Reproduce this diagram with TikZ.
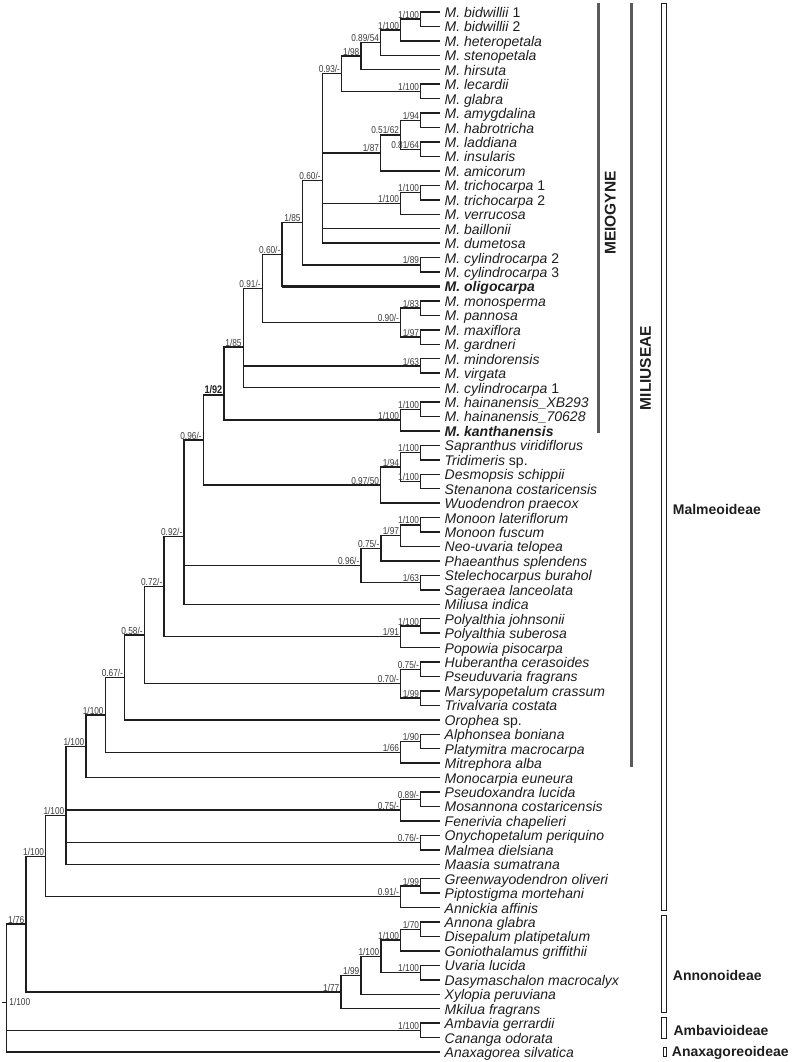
\documentclass[tikz,border=0pt]{standalone}
\usepackage{fontspec}
\setmainfont{Liberation Sans}
\newfontfamily\supfont[FakeStretch=0.83]{Liberation Sans}
\usepackage{xcolor}
\usepackage{tikz}
\definecolor{treeblack}{HTML}{1E1E1E}
\definecolor{supgray}{HTML}{3A3A3A}
\definecolor{bargray}{HTML}{5A5A5A}
\newcommand\suplabel{\supfont\fontsize{10}{10}\selectfont}
\tikzset{
  leaf/.style   ={anchor=west, inner xsep=4.5pt, inner ysep=0pt, text height=13pt,
                  text depth=2pt, font=\fontsize{14}{14}\selectfont\itshape, text=treeblack},
  sup/.style    ={anchor=south east, inner xsep=1.5pt, inner ysep=0.6pt,
                  font=\suplabel, text=supgray},
  branch/.style ={draw=treeblack, line width=1.4pt},
  bar/.style    ={draw=bargray, line width=3pt},
  subbox/.style ={draw=treeblack, line width=0.9pt, fill=white},
  grp/.style    ={rotate=90, inner sep=0pt, font=\fontsize{15.5}{15.5}\selectfont\bfseries, text=treeblack},
  subname/.style={anchor=west, inner sep=0pt, text height=10.5pt, text depth=0.5pt,
                  font=\fontsize{14}{14}\selectfont\bfseries, text=treeblack},
}

\begin{document}
\begin{tikzpicture}[x=1pt, y=-1pt]
  \useasboundingbox (0,0) rectangle (792,1062);

  % terminals
  \node[leaf] (bid1) at (440,12.0)  {M. bidwillii \textup{1}};
  \node[leaf] (bid2) at (440,26.4)  {M. bidwillii \textup{2}};
  \node[leaf] (het)  at (440,40.9)  {M. heteropetala};
  \node[leaf] (ste)  at (440,55.3)  {M. stenopetala};
  \node[leaf] (hir)  at (440,69.8)  {M. hirsuta};
  \node[leaf] (lec)  at (440,84.2)  {M. lecardii};
  \node[leaf] (gla)  at (440,98.7)  {M. glabra};
  \node[leaf] (amy)  at (440,113.1) {M. amygdalina};
  \node[leaf] (hab)  at (440,127.6) {M. habrotricha};
  \node[leaf] (lad)  at (440,142.0) {M. laddiana};
  \node[leaf] (ins)  at (440,156.4) {M. insularis};
  \node[leaf] (ami)  at (440,170.9) {M. amicorum};
  \node[leaf] (tri1) at (440,185.3) {M. trichocarpa \textup{1}};
  \node[leaf] (tri2) at (440,199.8) {M. trichocarpa \textup{2}};
  \node[leaf] (ver)  at (440,214.2) {M. verrucosa};
  \node[leaf] (bai)  at (440,228.7) {M. baillonii};
  \node[leaf] (dum)  at (440,243.1) {M. dumetosa};
  \node[leaf] (cyl2) at (440,257.6) {M. cylindrocarpa \textup{2}};
  \node[leaf] (cyl3) at (440,272.0) {M. cylindrocarpa \textup{3}};
  \node[leaf] (oli)  at (440,286.4) {\bfseries M. oligocarpa};
  \node[leaf] (mos)  at (440,300.9) {M. monosperma};
  \node[leaf] (pan)  at (440,315.3) {M. pannosa};
  \node[leaf] (max)  at (440,329.8) {M. maxiflora};
  \node[leaf] (gar)  at (440,344.2) {M. gardneri};
  \node[leaf] (min)  at (440,358.7) {M. mindorensis};
  \node[leaf] (vir)  at (440,373.1) {M. virgata};
  \node[leaf] (cyl1) at (440,387.6) {M. cylindrocarpa \textup{1}};
  \node[leaf] (haiA) at (440,402.0) {M. hainanensis\_XB293};
  \node[leaf] (haiB) at (440,416.4) {M. hainanensis\_70628};
  \node[leaf] (kan)  at (440,430.9) {\bfseries M. kanthanensis};
  \node[leaf] (sap)  at (440,445.3) {Sapranthus viridiflorus};
  \node[leaf] (tdm)  at (440,459.8) {Tridimeris \textup{sp.}};
  \node[leaf] (des)  at (440,474.2) {Desmopsis schippii};
  \node[leaf] (stn)  at (440,488.7) {Stenanona costaricensis};
  \node[leaf] (wuo)  at (440,503.1) {Wuodendron praecox};
  \node[leaf] (mlat) at (440,517.6) {Monoon lateriflorum};
  \node[leaf] (mfus) at (440,532.0) {Monoon fuscum};
  \node[leaf] (neo)  at (440,546.4) {Neo-uvaria telopea};
  \node[leaf] (pha)  at (440,560.9) {Phaeanthus splendens};
  \node[leaf] (stl)  at (440,575.3) {Stelechocarpus burahol};
  \node[leaf] (sag)  at (440,589.8) {Sageraea lanceolata};
  \node[leaf] (mil)  at (440,604.2) {Miliusa indica};
  \node[leaf] (polj) at (440,618.7) {Polyalthia johnsonii};
  \node[leaf] (pols) at (440,633.1) {Polyalthia suberosa};
  \node[leaf] (pop)  at (440,647.6) {Popowia pisocarpa};
  \node[leaf] (hub)  at (440,662.0) {Huberantha cerasoides};
  \node[leaf] (psu)  at (440,676.4) {Pseuduvaria fragrans};
  \node[leaf] (mar)  at (440,690.9) {Marsypopetalum crassum};
  \node[leaf] (trv)  at (440,705.3) {Trivalvaria costata};
  \node[leaf] (oro)  at (440,719.8) {Orophea \textup{sp.}};
  \node[leaf] (alp)  at (440,734.2) {Alphonsea boniana};
  \node[leaf] (pla)  at (440,748.7) {Platymitra macrocarpa};
  \node[leaf] (mit)  at (440,763.1) {Mitrephora alba};
  \node[leaf] (mnc)  at (440,777.6) {Monocarpia euneura};
  \node[leaf] (psx)  at (440,792.0) {Pseudoxandra lucida};
  \node[leaf] (msn)  at (440,806.4) {Mosannona costaricensis};
  \node[leaf] (fen)  at (440,820.9) {Fenerivia chapelieri};
  \node[leaf] (ony)  at (440,835.3) {Onychopetalum periquino};
  \node[leaf] (mlm)  at (440,849.8) {Malmea dielsiana};
  \node[leaf] (maa)  at (440,864.2) {Maasia sumatrana};
  \node[leaf] (gre)  at (440,878.7) {Greenwayodendron oliveri};
  \node[leaf] (pip)  at (440,893.1) {Piptostigma mortehani};
  \node[leaf] (ank)  at (440,907.6) {Annickia affinis};
  \node[leaf] (ann)  at (440,922.0) {Annona glabra};
  \node[leaf] (dis)  at (440,936.4) {Disepalum platipetalum};
  \node[leaf] (gon)  at (440,950.9) {Goniothalamus griffithii};
  \node[leaf] (uva)  at (440,965.3) {Uvaria lucida};
  \node[leaf] (das)  at (440,979.8) {Dasymaschalon macrocalyx};
  \node[leaf] (xyl)  at (440,994.2) {Xylopia peruviana};
  \node[leaf] (mki)  at (440,1008.7) {Mkilua fragrans};
  \node[leaf] (amb)  at (440,1023.1) {Ambavia gerrardii};
  \node[leaf] (can)  at (440,1037.6) {Cananga odorata};
  \node[leaf] (anx)  at (440,1052.0) {Anaxagorea silvatica};

  % internal nodes
  \coordinate (cBid)       at (420.7,19.2);
  \coordinate (cHet)       at (400.7,30.05);
  \coordinate (cSte)       at (380.7,42.7);
  \coordinate (cHir)       at (361,56.2);
  \coordinate (cLec)       at (420.7,91.45);
  \coordinate (cBidw)      at (341.7,73.8);
  \coordinate (cAmy)       at (420.7,120.35);
  \coordinate (cLad)       at (420.7,149.2);
  \coordinate (cAmyLad)    at (400.7,134.8);
  \coordinate (cAmi)       at (380.7,152.8);
  \coordinate (cTri)       at (420.7,192.55);
  \coordinate (cVer)       at (400.7,203.4);
  \coordinate (cCore)      at (322.3,180.4);
  \coordinate (cCyl)       at (420.7,264.8);
  \coordinate (cCylCore)   at (302.3,222.6);
  \coordinate (cOli)       at (282,254.5);
  \coordinate (cMos)       at (420.7,308.1);
  \coordinate (cMax)       at (420.7,337);
  \coordinate (cMosMax)    at (400.7,322.55);
  \coordinate (cOliMos)    at (262.3,288.5);
  \coordinate (cMin)       at (420.7,365.9);
  \coordinate (cMeio)      at (243.3,347);
  \coordinate (cHai)       at (420.7,409.2);
  \coordinate (cKan)       at (400.7,420.05);
  \coordinate (cMeiogyne)  at (224,395);
  \coordinate (cSap)       at (420.7,452.5);
  \coordinate (cDes)       at (420.7,481.4);
  \coordinate (cSapDes)    at (400.7,467);
  \coordinate (cWuo)       at (380.7,485);
  \coordinate (cMeiWuo)    at (203.3,440);
  \coordinate (cMon)       at (420.7,524.8);
  \coordinate (cNeo)       at (400.7,535.6);
  \coordinate (cPha)       at (381,548.25);
  \coordinate (cStl)       at (420.7,582.55);
  \coordinate (cMonStl)    at (361,565.4);
  \coordinate (cMil)       at (184,536.5);
  \coordinate (cPol)       at (420.7,625.9);
  \coordinate (cPop)       at (400.7,636.75);
  \coordinate (cMilPop)    at (164,586.6);
  \coordinate (cHub)       at (420.7,669.2);
  \coordinate (cMar)       at (420.7,698.1);
  \coordinate (cHubMar)    at (400.7,683.65);
  \coordinate (cMilHub)    at (144.3,635.1);
  \coordinate (cOro)       at (124.7,677.5);
  \coordinate (cAlp)       at (420.7,741.45);
  \coordinate (cMit)       at (400.7,752.3);
  \coordinate (cMiliuseae) at (105.3,714.9);
  \coordinate (cMonoc)     at (86,746.2);
  \coordinate (cPsx)       at (420.7,799.2);
  \coordinate (cFen)       at (400.7,810);
  \coordinate (cOny)       at (420.7,842.55);
  \coordinate (cMalm)      at (66,815.7);
  \coordinate (cGre)       at (420.7,885.9);
  \coordinate (cAnk)       at (400.7,896.75);
  \coordinate (cMalmeo)    at (45.7,856.2);
  \coordinate (cAnn)       at (420.7,929.2);
  \coordinate (cGon)       at (400.7,940.05);
  \coordinate (cUva)       at (420.7,972.55);
  \coordinate (cUvaGon)    at (381,956.3);
  \coordinate (cXyl)       at (361,975.25);
  \coordinate (cAnnono)    at (341,992);
  \coordinate (cMalAnn)    at (26,924.1);
  \coordinate (cAmb)       at (420.7,1030.35);
  \coordinate (cRoot)      at (6.7,1002.3);
  \coordinate (rootTip)    at (2,1002.3);

  % branches
  \draw[branch] (cBid) |- (bid1.west) (cBid) |- (bid2.west);
  \draw[branch] (cHet) |- (cBid) (cHet) |- (het.west);
  \draw[branch] (cSte) |- (cHet) (cSte) |- (ste.west);
  \draw[branch] (cHir) |- (cSte) (cHir) |- (hir.west);
  \draw[branch] (cLec) |- (lec.west) (cLec) |- (gla.west);
  \draw[branch] (cBidw) |- (cHir) (cBidw) |- (cLec);
  \draw[branch] (cAmy) |- (amy.west) (cAmy) |- (hab.west);
  \draw[branch] (cLad) |- (lad.west) (cLad) |- (ins.west);
  \draw[branch] (cAmyLad) |- (cAmy) (cAmyLad) |- (cLad);
  \draw[branch] (cAmi) |- (cAmyLad) (cAmi) |- (ami.west);
  \draw[branch] (cTri) |- (tri1.west) (cTri) |- (tri2.west);
  \draw[branch] (cVer) |- (cTri) (cVer) |- (ver.west);
  \draw[branch] (cCore) |- (cBidw) (cCore) |- (cAmi) (cCore) |- (cVer)
                (cCore) |- (bai.west) (cCore) |- (dum.west);
  \draw[branch] (cCyl) |- (cyl2.west) (cCyl) |- (cyl3.west);
  \draw[branch] (cCylCore) |- (cCore) (cCylCore) |- (cCyl);
  \draw[branch] (cOli) |- (cCylCore) (cOli) |- (oli.west);
  \draw[branch, line width=2.4pt] (cOli |- oli.west) -- (oli.west);
  \draw[branch] (cMos) |- (mos.west) (cMos) |- (pan.west);
  \draw[branch] (cMax) |- (max.west) (cMax) |- (gar.west);
  \draw[branch] (cMosMax) |- (cMos) (cMosMax) |- (cMax);
  \draw[branch] (cOliMos) |- (cOli) (cOliMos) |- (cMosMax);
  \draw[branch] (cMin) |- (min.west) (cMin) |- (vir.west);
  \draw[branch] (cMeio) |- (cOliMos) (cMeio) |- (cMin) (cMeio) |- (cyl1.west);
  \draw[branch] (cHai) |- (haiA.west) (cHai) |- (haiB.west);
  \draw[branch] (cKan) |- (cHai) (cKan) |- (kan.west);
  \draw[branch] (cMeiogyne) |- (cMeio) (cMeiogyne) |- (cKan);
  \draw[branch] (cSap) |- (sap.west) (cSap) |- (tdm.west);
  \draw[branch] (cDes) |- (des.west) (cDes) |- (stn.west);
  \draw[branch] (cSapDes) |- (cSap) (cSapDes) |- (cDes);
  \draw[branch] (cWuo) |- (cSapDes) (cWuo) |- (wuo.west);
  \draw[branch] (cMeiWuo) |- (cMeiogyne) (cMeiWuo) |- (cWuo);
  \draw[branch] (cMon) |- (mlat.west) (cMon) |- (mfus.west);
  \draw[branch] (cNeo) |- (cMon) (cNeo) |- (neo.west);
  \draw[branch] (cPha) |- (cNeo) (cPha) |- (pha.west);
  \draw[branch] (cStl) |- (stl.west) (cStl) |- (sag.west);
  \draw[branch] (cMonStl) |- (cPha) (cMonStl) |- (cStl);
  \draw[branch] (cMil) |- (cMeiWuo) (cMil) |- (cMonStl) (cMil) |- (mil.west);
  \draw[branch] (cPol) |- (polj.west) (cPol) |- (pols.west);
  \draw[branch] (cPop) |- (cPol) (cPop) |- (pop.west);
  \draw[branch] (cMilPop) |- (cMil) (cMilPop) |- (cPop);
  \draw[branch] (cHub) |- (hub.west) (cHub) |- (psu.west);
  \draw[branch] (cMar) |- (mar.west) (cMar) |- (trv.west);
  \draw[branch] (cHubMar) |- (cHub) (cHubMar) |- (cMar);
  \draw[branch] (cMilHub) |- (cMilPop) (cMilHub) |- (cHubMar);
  \draw[branch] (cOro) |- (cMilHub) (cOro) |- (oro.west);
  \draw[branch] (cAlp) |- (alp.west) (cAlp) |- (pla.west);
  \draw[branch] (cMit) |- (cAlp) (cMit) |- (mit.west);
  \draw[branch] (cMiliuseae) |- (cOro) (cMiliuseae) |- (cMit);
  \draw[branch] (cMonoc) |- (cMiliuseae) (cMonoc) |- (mnc.west);
  \draw[branch] (cPsx) |- (psx.west) (cPsx) |- (msn.west);
  \draw[branch] (cFen) |- (cPsx) (cFen) |- (fen.west);
  \draw[branch] (cOny) |- (ony.west) (cOny) |- (mlm.west);
  \draw[branch] (cMalm) |- (cMonoc) (cMalm) |- (cFen) (cMalm) |- (cOny) (cMalm) |- (maa.west);
  \draw[branch] (cGre) |- (gre.west) (cGre) |- (pip.west);
  \draw[branch] (cAnk) |- (cGre) (cAnk) |- (ank.west);
  \draw[branch] (cMalmeo) |- (cMalm) (cMalmeo) |- (cAnk);
  \draw[branch] (cAnn) |- (ann.west) (cAnn) |- (dis.west);
  \draw[branch] (cGon) |- (cAnn) (cGon) |- (gon.west);
  \draw[branch] (cUva) |- (uva.west) (cUva) |- (das.west);
  \draw[branch] (cUvaGon) |- (cGon) (cUvaGon) |- (cUva);
  \draw[branch] (cXyl) |- (cUvaGon) (cXyl) |- (xyl.west);
  \draw[branch] (cAnnono) |- (cXyl) (cAnnono) |- (mki.west);
  \draw[branch] (cMalAnn) |- (cMalmeo) (cMalAnn) |- (cAnnono);
  \draw[branch] (cAmb) |- (amb.west) (cAmb) |- (can.west);
  \draw[branch] (cRoot) |- (cMalAnn) (cRoot) |- (cAmb) (cRoot) |- (anx.west);
  \draw[branch] (rootTip) -- (cRoot);

  % support values (PP/BS)
  \node[sup] (sBid)       at (cBid)       {1/100};
  \node[sup] (sHet)       at (cHet)       {1/100};
  \node[sup] (sSte)       at (cSte)       {0.89/54};
  \node[sup] (sHir)       at (cHir)       {1/98};
  \node[sup] (sLec)       at (cLec)       {1/100};
  \node[sup] (sBidw)      at (cBidw)      {0.93/-};
  \node[sup] (sAmy)       at (cAmy)       {1/94};
  \node[sup] (sLad)       at (cLad)       {0.81/64};
  \node[sup] (sAmyLad)    at (cAmyLad)    {0.51/62};
  \node[sup] (sAmi)       at (cAmi)       {1/87};
  \node[sup] (sTri)       at (cTri)       {1/100};
  \node[sup] (sVer)       at (cVer)       {1/100};
  \node[sup] (sCore)      at (cCore)      {0.60/-};
  \node[sup] (sCyl)       at (cCyl)       {1/89};
  \node[sup] (sCylCore)   at (cCylCore)   {1/85};
  \node[sup] (sOli)       at (cOli)       {0.60/-};
  \node[sup] (sMos)       at (cMos)       {1/83};
  \node[sup] (sMax)       at (cMax)       {1/97};
  \node[sup] (sMosMax)    at (cMosMax)    {0.90/-};
  \node[sup] (sOliMos)    at (cOliMos)    {0.91/-};
  \node[sup] (sMin)       at (cMin)       {1/63};
  \node[sup] (sMeio)      at (cMeio)      {1/85};
  \node[sup] (sHai)       at (cHai)       {1/100};
  \node[sup] (sKan)       at (cKan)       {1/100};
  \node[sup, font=\supfont\fontsize{11}{11}\selectfont\bfseries, text=treeblack]
             (sMeiogyne)  at (cMeiogyne)  {1/92};
  \node[sup] (sSap)       at (cSap)       {1/100};
  \node[sup] (sDes)       at (cDes)       {1/100};
  \node[sup] (sSapDes)    at (cSapDes)    {1/94};
  \node[sup] (sWuo)       at (cWuo)       {0.97/50};
  \node[sup] (sMeiWuo)    at (cMeiWuo)    {0.96/-};
  \node[sup] (sMon)       at (cMon)       {1/100};
  \node[sup] (sNeo)       at (cNeo)       {1/97};
  \node[sup] (sPha)       at (cPha)       {0.75/-};
  \node[sup] (sStl)       at (cStl)       {1/63};
  \node[sup] (sMonStl)    at (cMonStl)    {0.96/-};
  \node[sup] (sMil)       at (cMil)       {0.92/-};
  \node[sup] (sPol)       at (cPol)       {1/100};
  \node[sup] (sPop)       at (cPop)       {1/91};
  \node[sup] (sMilPop)    at (cMilPop)    {0.72/-};
  \node[sup] (sHub)       at (cHub)       {0.75/-};
  \node[sup] (sMar)       at (cMar)       {1/99};
  \node[sup] (sHubMar)    at (cHubMar)    {0.70/-};
  \node[sup] (sMilHub)    at (cMilHub)    {0.58/-};
  \node[sup] (sOro)       at (cOro)       {0.67/-};
  \node[sup] (sAlp)       at (cAlp)       {1/90};
  \node[sup] (sMit)       at (cMit)       {1/66};
  \node[sup] (sMiliuseae) at (cMiliuseae) {1/100};
  \node[sup] (sMonoc)     at (cMonoc)     {1/100};
  \node[sup] (sPsx)       at (cPsx)       {0.89/-};
  \node[sup] (sFen)       at (cFen)       {0.75/-};
  \node[sup] (sOny)       at (cOny)       {0.76/-};
  \node[sup] (sMalm)      at (cMalm)      {1/100};
  \node[sup] (sGre)       at (cGre)       {1/99};
  \node[sup] (sAnk)       at (cAnk)       {0.91/-};
  \node[sup] (sMalmeo)    at (cMalmeo)    {1/100};
  \node[sup] (sAnn)       at (cAnn)       {1/70};
  \node[sup] (sGon)       at (cGon)       {1/100};
  \node[sup] (sUva)       at (cUva)       {1/100};
  \node[sup] (sUvaGon)    at (cUvaGon)    {1/100};
  \node[sup] (sXyl)       at (cXyl)       {1/99};
  \node[sup] (sAnnono)    at (cAnnono)    {1/77};
  \node[sup] (sMalAnn)    at (cMalAnn)    {1/76};
  \node[sup] (sAmb)       at (cAmb)       {1/100};
  \node[sup, anchor=west, xshift=1pt] (sRoot) at (cRoot) {1/100};

  % clade bars and subfamily boxes
  \draw[bar] (598.3,3) -- (598.3,433);
  \draw[bar] (631,3) -- (631,767);
  \node[grp] (meio) at (610.3,213) {MEIOGYNE};
  \node[grp] (mili) at (645.5,368) {MILIUSEAE};

  \draw[subbox] (661,3.5) rectangle (666,910);
  \draw[subbox] (661,915) rectangle (666,1012.5);
  \draw[subbox] (661,1017.5) rectangle (666,1038.5);
  \draw[subbox] (663,1047.5) rectangle (666.5,1056);
  \node[subname] (malmeo) at (672.7,509.3)  {Malmeoideae};
  \node[subname] (annono) at (672.7,975)    {Annonoideae};
  \node[subname] (ambav)  at (673.3,1030)   {Ambavioideae};
  \node[subname] (anaxa)  at (671.7,1051.7) {Anaxagoreoideae};
\end{tikzpicture}
\end{document}
